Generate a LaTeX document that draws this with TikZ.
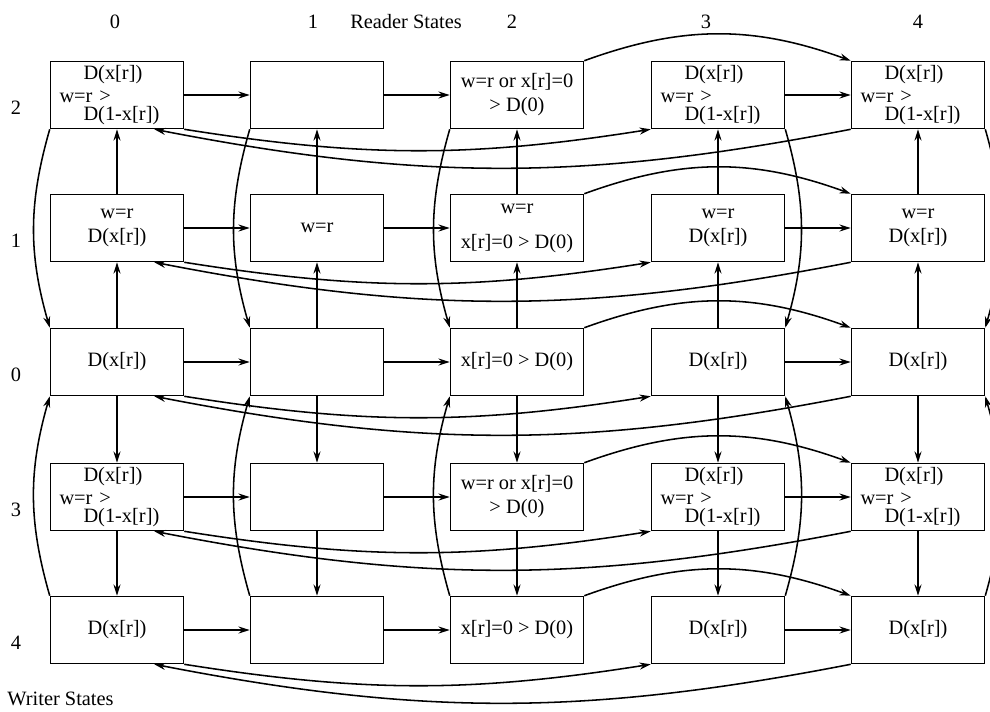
\documentclass[tikz,border=0pt]{standalone}
\usepackage{fontspec}
\setmainfont{Liberation Serif}
\usetikzlibrary{arrows.meta}
\newcommand{\dualout}{\hspace*{0.6cm}D(x[r])\\[-1pt]w=r >\\[-4.2pt]\hspace*{0.6cm}D(1-x[r])}

\begin{document}
\begin{tikzpicture}[>={Stealth[length=8pt,width=5pt]},line width=1.1pt,
  every node/.style={font=\fontsize{14.5pt}{17pt}\selectfont},
  sbox/.style={draw,align=center,minimum width=3.325cm,minimum height=1.675cm,inner sep=1mm},
  sdual/.style={sbox,align=left,text width=2.875cm,inner xsep=2.25mm}]
\useasboundingbox (0,0) rectangle (24.75,-17.775);
% reader and writer labels
\node (c0) at (2.875,-0.55) {0};
\node (c1) at (7.825,-0.55) {1};
\node (rs) at (10.15,-0.55) {Reader States};
\node (c2) at (12.8,-0.55) {2};
\node (c3) at (17.65,-0.55) {3};
\node (c4) at (22.95,-0.55) {4};
\node (l2) at (0.4,-2.7) {2};
\node (l1) at (0.4,-6.025) {1};
\node (l0) at (0.4,-9.375) {0};
\node (l3) at (0.4,-12.75) {3};
\node (l4) at (0.4,-16.075) {4};
\node[anchor=west] (ws) at (0.05,-17.475) {Writer States};
% writer state 2
\node[sdual] (w2r0) at (2.925,-2.375) {\dualout};
\node[sbox] (w2r1) at (7.925,-2.375) {};
\node[sbox] (w2r2) at (12.925,-2.375) {w=r or x[r]=0\\> D(0)};
\node[sdual] (w2r3) at (17.95,-2.375) {\dualout};
\node[sdual] (w2r4) at (22.95,-2.375) {\dualout};
% writer state 1
\node[sbox] (w1r0) at (2.925,-5.7) {w=r\\D(x[r])};
\node[sbox] (w1r1) at (7.925,-5.7) {w=r};
\node[sbox] (w1r2) at (12.925,-5.7) {w=r\\[8pt]x[r]=0 > D(0)};
\node[sbox] (w1r3) at (17.95,-5.7) {w=r\\D(x[r])};
\node[sbox] (w1r4) at (22.95,-5.7) {w=r\\D(x[r])};
% writer state 0
\node[sbox] (w0r0) at (2.925,-9.05) {D(x[r])};
\node[sbox] (w0r1) at (7.925,-9.05) {};
\node[sbox] (w0r2) at (12.925,-9.05) {x[r]=0 > D(0)};
\node[sbox] (w0r3) at (17.95,-9.05) {D(x[r])};
\node[sbox] (w0r4) at (22.95,-9.05) {D(x[r])};
% writer state 3
\node[sdual] (w3r0) at (2.925,-12.425) {\dualout};
\node[sbox] (w3r1) at (7.925,-12.425) {};
\node[sbox] (w3r2) at (12.925,-12.425) {w=r or x[r]=0\\> D(0)};
\node[sdual] (w3r3) at (17.95,-12.425) {\dualout};
\node[sdual] (w3r4) at (22.95,-12.425) {\dualout};
% writer state 4
\node[sbox] (w4r0) at (2.925,-15.75) {D(x[r])};
\node[sbox] (w4r1) at (7.925,-15.75) {};
\node[sbox] (w4r2) at (12.925,-15.75) {x[r]=0 > D(0)};
\node[sbox] (w4r3) at (17.95,-15.75) {D(x[r])};
\node[sbox] (w4r4) at (22.95,-15.75) {D(x[r])};
% reader moves
\draw[->] (w2r0.east)--(w2r1.west); \draw[->] (w2r1.east)--(w2r2.west); \draw[->] (w2r3.east)--(w2r4.west);
\draw[->] (w1r0.east)--(w1r1.west); \draw[->] (w1r1.east)--(w1r2.west); \draw[->] (w1r3.east)--(w1r4.west);
\draw[->] (w0r0.east)--(w0r1.west); \draw[->] (w0r1.east)--(w0r2.west); \draw[->] (w0r3.east)--(w0r4.west);
\draw[->] (w3r0.east)--(w3r1.west); \draw[->] (w3r1.east)--(w3r2.west); \draw[->] (w3r3.east)--(w3r4.west);
\draw[->] (w4r0.east)--(w4r1.west); \draw[->] (w4r1.east)--(w4r2.west); \draw[->] (w4r3.east)--(w4r4.west);
\draw[->] (w2r2.north east) to[bend left=20] (w2r4.north west); \draw[->] (w2r0.south east) to[bend right=9] (w2r3.south west);
\draw[->] (w1r2.north east) to[bend left=20] (w1r4.north west); \draw[->] (w1r0.south east) to[bend right=9] (w1r3.south west);
\draw[->] (w0r2.north east) to[bend left=20] (w0r4.north west); \draw[->] (w0r0.south east) to[bend right=9] (w0r3.south west);
\draw[->] (w3r2.north east) to[bend left=20] (w3r4.north west); \draw[->] (w3r0.south east) to[bend right=9] (w3r3.south west);
\draw[->] (w4r2.north east) to[bend left=20] (w4r4.north west); \draw[->] (w4r0.south east) to[bend right=9] (w4r3.south west);
\draw[->] (w2r4.south west) to[bend left=11] ([xshift=-0.75cm]w2r0.south east);
\draw[->] (w1r4.south west) to[bend left=11] ([xshift=-0.75cm]w1r0.south east);
\draw[->] (w0r4.south west) to[bend left=11] ([xshift=-0.75cm]w0r0.south east);
\draw[->] (w3r4.south west) to[bend left=11] ([xshift=-0.75cm]w3r0.south east);
\draw[->] (w4r4.south west) to[bend left=11] ([xshift=-0.75cm]w4r0.south east);
% writer moves
\draw[->] (w1r0.north)--(w2r0.south); \draw[->] (w0r0.north)--(w1r0.south); \draw[->] (w0r0.south)--(w3r0.north); \draw[->] (w3r0.south)--(w4r0.north);
\draw[->] (w1r1.north)--(w2r1.south); \draw[->] (w0r1.north)--(w1r1.south); \draw[->] (w0r1.south)--(w3r1.north); \draw[->] (w3r1.south)--(w4r1.north);
\draw[->] (w1r2.north)--(w2r2.south); \draw[->] (w0r2.north)--(w1r2.south); \draw[->] (w0r2.south)--(w3r2.north); \draw[->] (w3r2.south)--(w4r2.north);
\draw[->] (w1r3.north)--(w2r3.south); \draw[->] (w0r3.north)--(w1r3.south); \draw[->] (w0r3.south)--(w3r3.north); \draw[->] (w3r3.south)--(w4r3.north);
\draw[->] (w1r4.north)--(w2r4.south); \draw[->] (w0r4.north)--(w1r4.south); \draw[->] (w0r4.south)--(w3r4.north); \draw[->] (w3r4.south)--(w4r4.north);
\draw[->] (w2r0.south west) to[bend right=16] (w0r0.north west); \draw[->] (w4r0.north west) to[bend left=16] (w0r0.south west);
\draw[->] (w2r1.south west) to[bend right=16] (w0r1.north west); \draw[->] (w4r1.north west) to[bend left=16] (w0r1.south west);
\draw[->] (w2r2.south west) to[bend right=16] (w0r2.north west); \draw[->] (w4r2.north west) to[bend left=16] (w0r2.south west);
\draw[->] (w2r3.south east) to[bend left=16] (w0r3.north east); \draw[->] (w4r3.north east) to[bend right=16] (w0r3.south east);
\draw[->] (w2r4.south east) to[bend left=16] (w0r4.north east); \draw[->] (w4r4.north east) to[bend right=16] (w0r4.south east);
\end{tikzpicture}
\end{document}
